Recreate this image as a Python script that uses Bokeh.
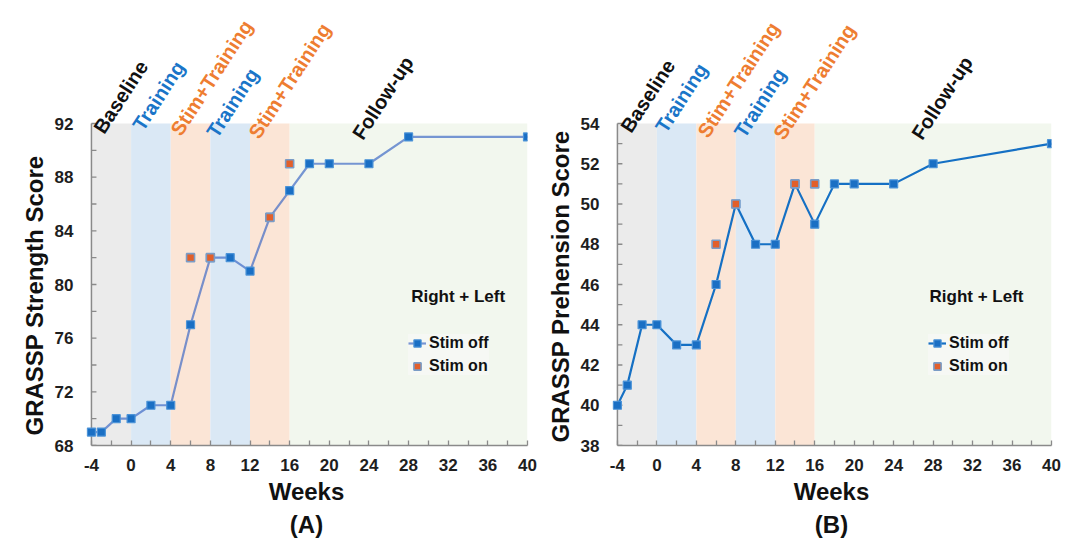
from bokeh.plotting import figure
from bokeh.layouts import row
from bokeh.models import (ColumnDataSource, Label, Legend, LegendItem,
                          FixedTicker, Title, Range1d)
from bokeh.embed import file_html
from bokeh.resources import INLINE

# ---- data -------------------------------------------------------------
weeks_off = [-4, -3, -1.5, 0, 2, 4, 6, 8, 10, 12, 14, 16, 18, 20, 24, 28, 40]
strength_off = [69, 69, 70, 70, 71, 71, 77, 82, 82, 81, 85, 87, 89, 89, 89, 91, 91]
prehension_off = [40, 41, 44, 44, 43, 43, 46, 50, 48, 48, 51, 49, 51, 51, 51, 52, 53]

weeks_on = [6, 8, 14, 16]
strength_on = [82, 82, 85, 89]
prehension_on = [48, 50, 51, 51]

phase_names = ["Baseline", "Training", "Stim+Training", "Training", "Stim+Training", "Follow-up"]
phase_start = [-4, 0, 4, 8, 12, 16]
phase_end = [0, 4, 8, 12, 16, 40]

x_ticks = [-4, 0, 4, 8, 12, 16, 20, 24, 28, 32, 36, 40]
x_minor = [-2, 2, 6, 10, 14, 18, 22, 26, 30, 34, 38]

# ---- styling ----------------------------------------------------------
FONT = "Liberation Sans"
band_colors = ["#ebebeb", "#dae8f5", "#fbe5d6", "#dae8f5", "#fbe5d6", "#f2f7ee"]
phase_text_colors = ["#111111", "#1a75c8", "#ee7d31", "#1a75c8", "#ee7d31", "#111111"]
AXIS_GREY = "#8a8a8a"

PLOT_W = 436      # pixel width of the week span
PLOT_H = 322      # pixel height of the scored y span
TOP_PAD = 123     # room above the scored span for the phase names
X_PAD = 0.6       # weeks of room left of week -4 so end markers are whole
TICK_LEN = 5


def panel(title_y, title_lift, values_off, values_on, y_min, y_max, y_step,
          y_minor_step, border_left, border_right, label_x, label_drop, note_xy,
          legend_xy, line_color, line_alpha, tag):
    ppu = PLOT_H / (y_max - y_min)
    wpx = PLOT_W / (x_ticks[-1] - x_ticks[0])
    x_lo = x_ticks[0]
    p = figure(width=540, height=552, output_backend="svg", toolbar_location=None,
               x_range=Range1d(x_lo - X_PAD, x_ticks[-1]),
               y_range=Range1d(y_min, y_max + TOP_PAD / ppu),
               min_border_left=border_left, min_border_right=border_right,
               min_border_top=0, min_border_bottom=107)
    p.outline_line_color = None
    p.grid.visible = False
    p.background_fill_color = "white"

    # phase bands
    bands = ColumnDataSource(dict(left=phase_start, right=phase_end,
                                  bottom=[y_min] * len(phase_start),
                                  top=[y_max] * len(phase_start),
                                  color=band_colors))
    p.quad(left="left", right="right", bottom="bottom", top="top",
           fill_color="color", line_color=None, source=bands)

    # y axis line and inward ticks sitting on week -4
    y_ticks = list(range(y_min, y_max + 1, y_step))
    y_minor = [v for v in range(y_min, y_max + 1, y_minor_step) if v not in y_ticks]
    all_ticks = y_ticks + y_minor
    p.segment(x0=[x_lo] * len(all_ticks), x1=[x_lo + TICK_LEN / wpx] * len(all_ticks),
              y0=all_ticks, y1=all_ticks, line_color=AXIS_GREY, line_width=1.3)
    p.segment(x0=[x_lo], x1=[x_lo], y0=[y_min], y1=[y_max],
              line_color=AXIS_GREY, line_width=1.5)

    # series
    ln = p.line(weeks_off, values_off, line_color=line_color, line_width=2.2,
                line_alpha=line_alpha)
    sq_off = p.scatter(weeks_off, values_off, marker="square", size=8,
                       fill_color="#1a6fc4", line_color="#4d94d8", line_width=1.2)
    sq_on = p.scatter(weeks_on, values_on, marker="square", size=8,
                      fill_color="#e25f2a", line_color="#7a9cc6", line_width=1.6)

    # axes
    p.xaxis.ticker = FixedTicker(ticks=x_ticks, minor_ticks=x_minor)
    p.xaxis.bounds = (x_ticks[0], x_ticks[-1])
    p.xaxis.major_label_overrides = {t: str(t) for t in x_ticks}
    p.yaxis.ticker = FixedTicker(ticks=y_ticks, minor_ticks=y_minor)
    for ax in (p.xaxis[0], p.yaxis[0]):
        ax.axis_line_color = AXIS_GREY
        ax.axis_line_width = 1.5
        ax.major_tick_line_color = AXIS_GREY
        ax.minor_tick_line_color = AXIS_GREY
        ax.major_tick_line_width = 1.3
        ax.minor_tick_line_width = 1.3
        ax.major_tick_in = TICK_LEN
        ax.major_tick_out = 0
        ax.minor_tick_in = TICK_LEN
        ax.minor_tick_out = 0
        ax.major_label_text_font = FONT
        ax.major_label_text_font_style = "bold"
        ax.major_label_text_font_size = "17px"
        ax.major_label_text_color = "#1e1e1e"
        ax.axis_label_text_font = FONT
        ax.axis_label_text_font_style = "bold"
        ax.axis_label_text_font_size = "24px"
        ax.axis_label_text_color = "#111111"
    p.yaxis.axis_line_color = None
    p.yaxis.major_tick_line_color = None
    p.yaxis.minor_tick_line_color = None
    p.xaxis.axis_label = "Weeks"
    p.xaxis.major_label_standoff = 13
    p.xaxis.axis_label_standoff = 4
    p.yaxis.major_label_standoff = 18 - round(X_PAD * wpx)

    # y title, started near the bottom of the scored span
    p.add_layout(Title(text=title_y, align="left", offset=title_lift,
                       text_font=FONT, text_font_style="bold",
                       text_font_size="24px", text_color="#111111",
                       standoff=8), "left")

    # phase names above the bands
    for name, col, lx, drop in zip(phase_names, phase_text_colors, label_x, label_drop):
        p.add_layout(Label(x=lx, y=y_max - drop / ppu, text=name, angle=57,
                           angle_units="deg", text_align="left",
                           text_baseline="alphabetic", text_color=col,
                           text_font=FONT, text_font_style="bold",
                           text_font_size="20px"))

    p.add_layout(Label(x=note_xy[0], y=note_xy[1], text="Right + Left",
                       text_align="center", text_baseline="middle",
                       text_color="#111111", text_font=FONT,
                       text_font_style="bold", text_font_size="17px"))

    legend = Legend(items=[LegendItem(label="Stim off", renderers=[ln, sq_off]),
                           LegendItem(label="Stim on", renderers=[sq_on])],
                    location=legend_xy)
    legend.background_fill_color = "#f6f8f4"
    legend.background_fill_alpha = 1.0
    legend.border_line_color = None
    legend.label_text_font = FONT
    legend.label_text_font_style = "bold"
    legend.label_text_font_size = "16px"
    legend.label_text_color = "#111111"
    legend.glyph_width = 18
    legend.glyph_height = 18
    legend.label_height = 18
    legend.label_standoff = 3
    legend.spacing = 5
    legend.padding = 4
    legend.margin = 0
    p.add_layout(legend)

    p.add_layout(Title(text=tag, align="center", text_font=FONT,
                       text_font_style="bold", text_font_size="24px",
                       text_color="#111111", standoff=2), "below")
    return p


pad_px = round(X_PAD * PLOT_W / 44)
pa = panel("GRASSP Strength Score", 10, strength_off, strength_on, 68, 92, 4, 2,
           91 - pad_px, 13,
           [-3.3, 0.64, 4.47, 8.1, 12.35, 22.8], [8, 5, 10, 12, 13, 14],
           (33.0, 79.1), (317 + pad_px, 70), "#3a66c4", 0.68, "(A)")
pb = panel("GRASSP Prehension Score", 3, prehension_off, prehension_on, 38, 54, 2, 1,
           75 - pad_px, 29,
           [-3.2, 0.34, 4.6, 8.3, 12.3, 26.3], [7, 7, 12, 12, 14, 14],
           (32.4, 45.4), (311 + pad_px, 70), "#1570c4", 1.0, "(B)")

layout = row(pa, pb)
open("out.html", "w").write(file_html(layout, INLINE))
